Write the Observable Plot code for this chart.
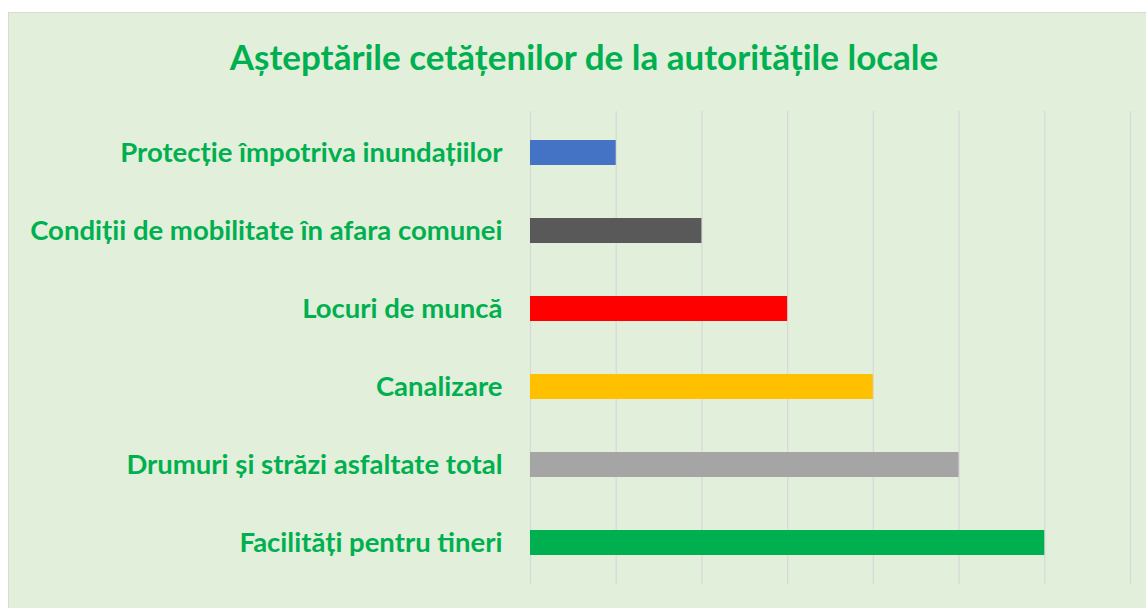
<!DOCTYPE html>
<html>
<head>
<meta charset="utf-8">
<script src="https://cdn.jsdelivr.net/npm/d3@7"></script>
<script src="https://cdn.jsdelivr.net/npm/@observablehq/plot@0.6"></script>
<style>
  html, body { margin: 0; padding: 0; background: #ffffff; }
  #card {
    position: absolute; left: 8px; top: 12px; width: 1140px; height: 600px;
    background: #e2efda; border-top: 1px solid #d9d9d9; border-left: 1px solid #d9d9d9;
    overflow: hidden;
  }
  #title {
    position: absolute; left: 0; width: 1150px; top: 22px; text-align: center;
    font-family: Lato, sans-serif; font-weight: bold; font-size: 35px; color: #00b050;
    line-height: 1.2;
  }
  #chart { position: absolute; left: -1px; top: 77px; }
</style>
</head>
<body>
<div id="card">
  <div id="title">Așteptările cetățenilor de la autoritățile locale</div>
  <div id="chart"></div>
</div>
<script>
const categories = [
  "Protecție împotriva inundațiilor",
  "Condiții de mobilitate în afara comunei",
  "Locuri de muncă",
  "Canalizare",
  "Drumuri și străzi asfaltate total",
  "Facilități pentru tineri"
];
const values = [1, 2, 3, 4, 5, 6];
const barColors = ["#4472c4", "#595959", "#ff0000", "#ffc000", "#a5a5a5", "#00b050"];
const gridTicks = [0, 1, 2, 3, 4, 5, 6, 7];

const data = categories.map((c, i) => ({category: c, value: values[i]}));

const plot = Plot.plot({
  width: 1140,
  height: 518,
  marginTop: 21,
  marginBottom: 24,
  marginLeft: 522,
  marginRight: 18,
  style: {background: "transparent", overflow: "visible"},
  x: {domain: [0, 7], axis: null},
  y: {domain: categories, paddingInner: 0.683, paddingOuter: 0.3415, axis: null},
  color: {domain: categories, range: barColors},
  marks: [
    Plot.ruleX(gridTicks, {stroke: "#d9d9d9", strokeWidth: 1.3}),
    Plot.barX(data, {x: "value", y: "category", fill: "category"}),
    Plot.axisY({
      label: null, tickSize: 0, tickPadding: 28, fontSize: 27.5, fontWeight: "bold",
      fill: "#00b050", fontFamily: "Lato, sans-serif"
    })
  ]
});
document.getElementById("chart").appendChild(plot);
</script>
</body>
</html>
